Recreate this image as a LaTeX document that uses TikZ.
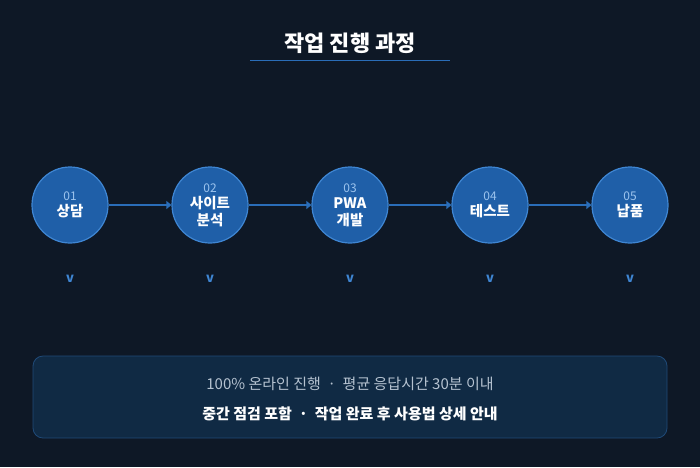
\documentclass[tikz,border=0pt]{standalone}
\usepackage{fontspec}
\setmainfont{Noto Sans CJK KR}
\usetikzlibrary{arrows.meta, positioning}
\definecolor{bgdark}{HTML}{0E1826}
\definecolor{stepfill}{HTML}{1F5FA8}
\definecolor{stepline}{HTML}{3F86D3}
\definecolor{numblue}{HTML}{9CC4EE}
\definecolor{boxfill}{HTML}{102A44}
\definecolor{boxline}{HTML}{1F4A78}
\definecolor{linkblue}{HTML}{2A6DB8}
\definecolor{greytext}{HTML}{B5C2D0}
\begin{document}
\begin{tikzpicture}[
    x=1pt, y=-1pt,
    stepcircle/.style={circle, draw=stepline, line width=1.2pt, fill=stepfill, minimum size=76pt, inner sep=0pt, align=center, text=white, font=\bfseries\fontsize{14.5}{16.5}\selectfont},
    mark v/.style={text=stepline, font=\bfseries\fontsize{13}{15}\selectfont},
    link/.style={-{Triangle[length=5pt,width=8pt]}, draw=linkblue, line width=1.2pt},
    infobox/.style={draw=boxline, fill=boxfill, rounded corners=10pt, line width=0.8pt}
]
\useasboundingbox[fill=bgdark] (0,0) rectangle (700,467);

% 제목
\node[text=white, font=\bfseries\fontsize{22}{24}\selectfont] (title) at (350,43) {작업 진행 과정};
\draw[linkblue, line width=0.8pt] (250,60) -- (450,60);

% 단계
\node[stepcircle] (s1) at (70,205) {{\color{numblue}\mdseries\fontsize{12}{14}\selectfont 01}\\상담};
\node[stepcircle] (s2) at (210,205) {{\color{numblue}\mdseries\fontsize{12}{14}\selectfont 02}\\사이트\\분석};
\node[stepcircle] (s3) at (350,205) {{\color{numblue}\mdseries\fontsize{12}{14}\selectfont 03}\\PWA\\개발};
\node[stepcircle] (s4) at (490,205) {{\color{numblue}\mdseries\fontsize{12}{14}\selectfont 04}\\테스트};
\node[stepcircle] (s5) at (630,205) {{\color{numblue}\mdseries\fontsize{12}{14}\selectfont 05}\\납품};

% 연결선
\foreach \a/\b in {s1/s2, s2/s3, s3/s4, s4/s5}
    \draw[link] (\a) -- (\b);

% v 표시
\foreach \i in {1,...,5}
    \node[mark v, below=28pt of s\i] (v\i) {v};

% 안내 상자
\draw[infobox] (33,356) rectangle (667,438);
\node[text=greytext, font=\fontsize{15}{17}\selectfont] (info1) at (350,384) {100\% 온라인 진행 \ · \ 평균 응답시간 30분 이내};
\node[text=white, font=\bfseries\fontsize{15}{17}\selectfont] (info2) at (350,414) {중간 점검 포함 \ · \ 작업 완료 후 사용법 상세 안내};
\end{tikzpicture}
\end{document}
